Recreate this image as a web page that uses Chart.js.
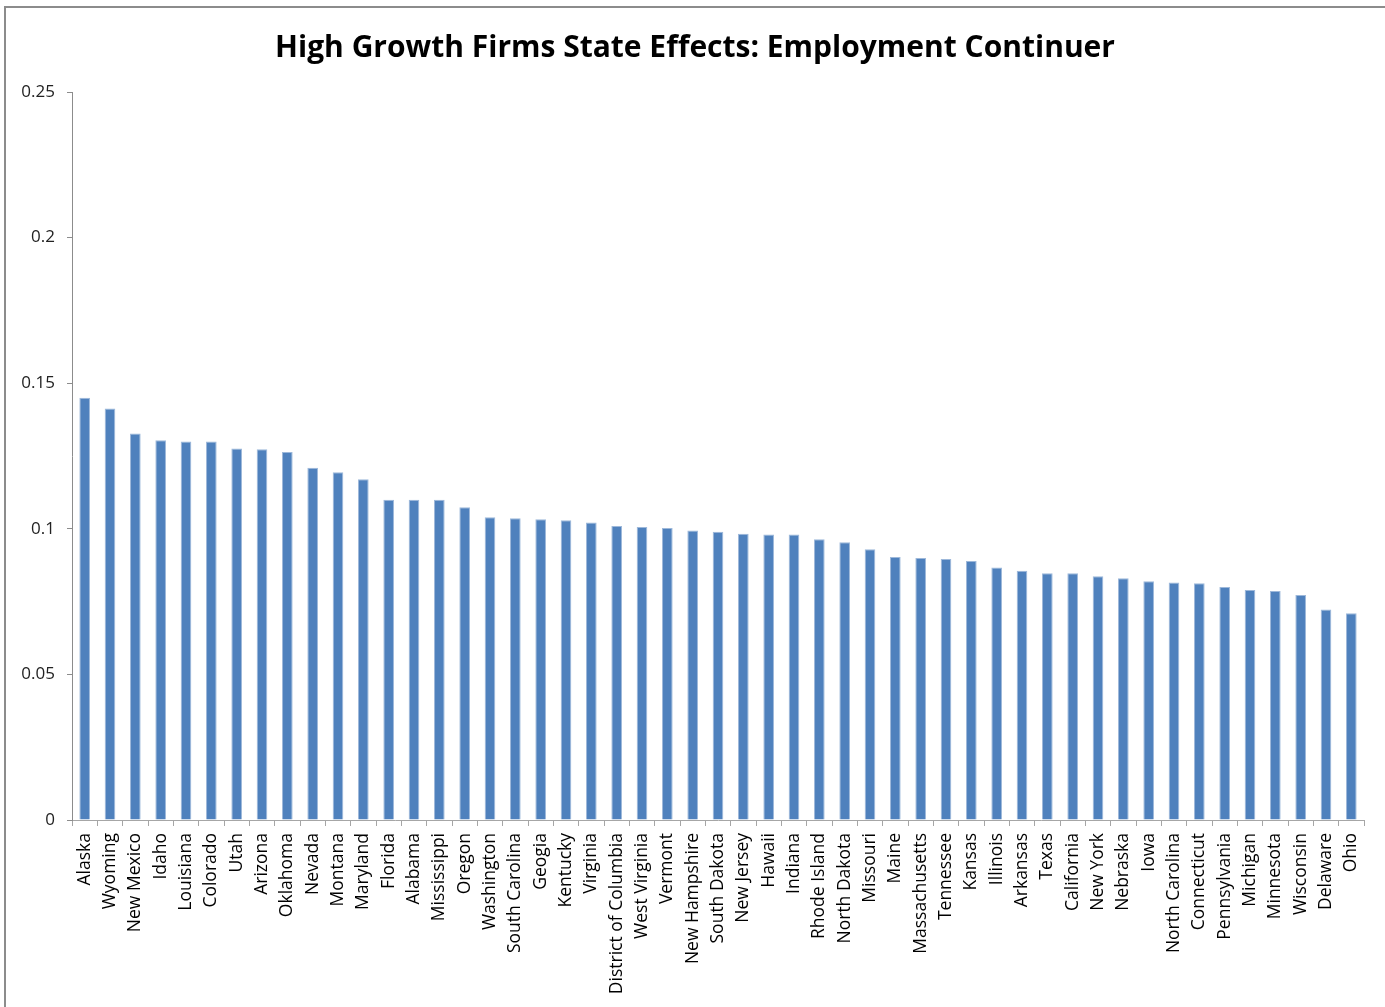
<!DOCTYPE html>
<html>
<head>
<meta charset="utf-8">
<script src="https://cdn.jsdelivr.net/npm/chart.js@4.4.1/dist/chart.umd.min.js"></script>
<style>
  html, body { margin: 0; padding: 0; background: #fff; }
  #frame {
    position: absolute; left: 4px; top: 6px; width: 1381px; height: 1001px;
    border-left: 2px solid #8c8c8c; border-top: 2px solid #8c8c8c;
  }
  #wrap { position: absolute; left: 0; top: 0; width: 1385px; height: 1007px; }
</style>
</head>
<body>
<div id="frame"></div>
<div id="wrap"><canvas id="chart"></canvas></div>
<script>
/* data */
const states = [
  "Alaska", "Wyoming", "New Mexico", "Idaho", "Louisiana", "Colorado", "Utah",
  "Arizona", "Oklahoma", "Nevada", "Montana", "Maryland", "Florida", "Alabama",
  "Mississippi", "Oregon", "Washington", "South Carolina", "Geogia", "Kentucky",
  "Virginia", "District of Columbia", "West Virginia", "Vermont", "New Hampshire",
  "South Dakota", "New Jersey", "Hawaii", "Indiana", "Rhode Island", "North Dakota",
  "Missouri", "Maine", "Massachusetts", "Tennessee", "Kansas", "Illinois",
  "Arkansas", "Texas", "California", "New York", "Nebraska", "Iowa",
  "North Carolina", "Connecticut", "Pennsylvania", "Michigan", "Minnesota",
  "Wisconsin", "Delaware", "Ohio"
];

const effects = [
  0.1450, 0.1413, 0.1327, 0.1304, 0.1300, 0.1300, 0.1276,
  0.1273, 0.1264, 0.1210, 0.1194, 0.1170, 0.1100, 0.1100,
  0.1100, 0.1074, 0.1040, 0.1036, 0.1033, 0.1029,
  0.1022, 0.1010, 0.1006, 0.1003, 0.0994,
  0.0990, 0.0983, 0.0980, 0.0980, 0.0964, 0.0954,
  0.0930, 0.0903, 0.0900, 0.0896, 0.0889, 0.0867,
  0.0856, 0.0847, 0.0847, 0.0837, 0.0830, 0.0820,
  0.0816, 0.0813, 0.0800, 0.0790, 0.0786,
  0.0773, 0.0723, 0.0710
];

const yTicks = [0, 0.05, 0.1, 0.15, 0.2, 0.25];

const FONT = "'Open Sans', 'DejaVu Sans', sans-serif";

const ctx = document.getElementById("chart").getContext("2d");

new Chart(ctx, {
  type: "bar",
  data: {
    labels: states,
    datasets: [{
      data: effects,
      backgroundColor: "#4F81BD",
      borderColor: "#9db8da",
      borderWidth: { left: 1, right: 1, top: 1, bottom: 0 },
      barPercentage: 0.42,
      categoryPercentage: 1
    }]
  },
  options: {
    responsive: true,
    maintainAspectRatio: false,
    animation: false,
    layout: { padding: { left: 5, right: 0, top: 0, bottom: 0 } },
    plugins: {
      legend: { display: false },
      tooltip: { enabled: false },
      title: {
        display: true,
        text: "High Growth Firms State Effects: Employment Continuer",
        color: "#000",
        font: { family: FONT, size: 30, weight: "bold", lineHeight: 1.2 },
        padding: { top: 30, bottom: 26 }
      }
    },
    scales: {
      x: {
        grid: {
          offset: true,
          drawOnChartArea: false,
          drawTicks: true,
          tickLength: 6,
          color: "#a6a6a6"
        },
        border: { color: "#a6a6a6", width: 1 },
        ticks: {
          autoSkip: false,
          maxRotation: 90,
          minRotation: 90,
          padding: 7,
          color: "#000",
          font: { family: FONT, size: 17.5 }
        },
        afterFit: s => { s.height = 187; }
      },
      y: {
        min: 0,
        max: 0.25,
        afterBuildTicks: s => { s.ticks = yTicks.map(v => ({ value: v })); },
        grid: {
          drawOnChartArea: false,
          drawTicks: true,
          tickLength: 5,
          color: "#8c8c8c"
        },
        border: { color: "#8c8c8c", width: 1 },
        ticks: {
          padding: 12,
          color: "#222",
          font: { family: FONT, size: 17 },
          callback: v => String(v)
        },
        afterFit: s => { s.width = 67; }
      },
      // empty right-hand spacer so the title stays centred on the whole frame
      yRight: {
        position: "right",
        grid: { display: false },
        border: { display: false },
        ticks: { display: false },
        afterFit: s => { s.width = 21; }
      }
    }
  }
});
</script>
</body>
</html>
